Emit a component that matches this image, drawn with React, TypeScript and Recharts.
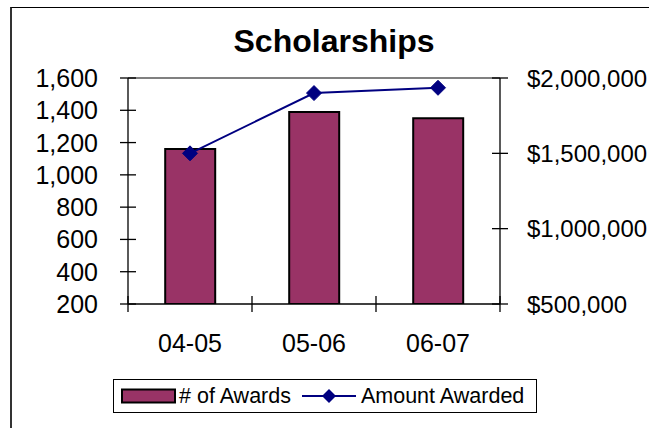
import { ComposedChart, Bar, Line, XAxis, YAxis, ReferenceLine, Legend } from 'recharts';

const categories = ['04-05', '05-06', '06-07'];
const awards = [1160, 1390, 1350];
const amounts = [1500000, 1900000, 1935000];
const leftTicks = [200, 400, 600, 800, 1000, 1200, 1400, 1600];
const rightTicks = [500000, 1000000, 1500000, 2000000];

const data = categories.map((c, i) => ({
  year: c,
  awards: awards[i],
  amount: amounts[i],
}));

const FONT = '"Liberation Sans", Arial, sans-serif';
const BAR_COLOR = '#993366';
const LINE_COLOR = '#000080';

const LeftTick = (props: any) => {
  const { x, y, payload } = props;
  const ax = x + 30; // axis line position
  return (
    <g>
      <line x1={ax - 8} x2={ax + 8} y1={y} y2={y} stroke="#000" strokeWidth={1.3} />
      <text x={x} y={y} dy="0.36em" textAnchor="end" fontSize={25} fill="#000" fontFamily={FONT}>
        {payload.value.toLocaleString('en-US')}
      </text>
    </g>
  );
};

const RightTick = (props: any) => {
  const { x, y, payload } = props;
  const ax = x - 27;
  return (
    <g>
      <line x1={ax - 8} x2={ax + 8} y1={y} y2={y} stroke="#000" strokeWidth={1.3} />
      <text x={x} y={y} dy="0.36em" textAnchor="start" fontSize={24} fill="#000" fontFamily={FONT}>
        {'$' + payload.value.toLocaleString('en-US')}
      </text>
    </g>
  );
};

const BottomTick = (props: any) => {
  const { x, y, payload, index, visibleTicksCount, width } = props;
  const half = payload.offset > 0 ? payload.offset : width / visibleTicksCount / 2;
  const ay = y - 8; // axis line position
  return (
    <g>
      <line x1={x - half} x2={x - half} y1={ay - 8} y2={ay + 8} stroke="#000" strokeWidth={1.3} />
      {index === visibleTicksCount - 1 && (
        <line x1={x + half} x2={x + half} y1={ay - 8} y2={ay + 8} stroke="#000" strokeWidth={1.3} />
      )}
      <text x={x} y={ay + 47.5} textAnchor="middle" fontSize={25} fill="#000" fontFamily={FONT}>
        {payload.value}
      </text>
    </g>
  );
};

const Diamond = (props: any) => {
  const { cx, cy } = props;
  if (cx == null || cy == null) return null;
  const r = 7.5;
  return (
    <polygon
      points={`${cx},${cy - r} ${cx + r},${cy} ${cx},${cy + r} ${cx - r},${cy}`}
      fill={LINE_COLOR}
      stroke={LINE_COLOR}
    />
  );
};

const LegendBox = () => (
  <div
    style={{
      width: 424,
      height: 34,
      border: '1px solid #000',
      background: '#fff',
      display: 'flex',
      alignItems: 'center',
      fontFamily: FONT,
      fontSize: 21.5,
      color: '#000',
      boxSizing: 'border-box',
    }}
  >
    <svg width={60} height={20} style={{ marginLeft: 6 }}>
      <rect x={2} y={3.5} width={53} height={13} fill={BAR_COLOR} stroke="#000" strokeWidth={2} />
    </svg>
    <span style={{ marginLeft: -1 }}># of Awards</span>
    <svg width={56} height={20} style={{ marginLeft: 10 }}>
      <line x1={1} x2={55} y1={10} y2={10} stroke={LINE_COLOR} strokeWidth={2} />
      <polygon points="28,3 35,10 28,17 21,10" fill={LINE_COLOR} />
    </svg>
    <span style={{ marginLeft: 4 }}>Amount Awarded</span>
  </div>
);

export default function App() {
  return (
    <div
      style={{
        position: 'absolute',
        left: 0,
        top: 0,
        width: 649,
        height: 428,
        background: '#fff',
        overflow: 'hidden',
      }}
    >
      <div
        style={{
          position: 'absolute',
          left: 10,
          top: 7,
          width: 700,
          height: 500,
          borderLeft: '2px solid #333',
          borderTop: '1.5px solid #000',
        }}
      />
      <div
        style={{
          position: 'absolute',
          left: 0,
          width: 668,
          top: 23,
          textAlign: 'center',
          fontFamily: FONT,
          fontWeight: 'bold',
          fontSize: 32,
          lineHeight: '36px',
          color: '#000',
        }}
      >
        Scholarships
      </div>
      <div style={{ position: 'absolute', left: 0, top: 0 }}>
        <ComposedChart
          width={649}
          height={428}
          data={data}
          margin={{ top: 78, right: 0, bottom: 0, left: 0 }}
          barCategoryGap="30%"
        >
          <XAxis
            dataKey="year"
            height={124}
            axisLine={{ stroke: '#000', strokeWidth: 1.3 }}
            tickLine={false}
            tickSize={8}
            tickMargin={0}
            tick={<BottomTick />}
            interval={0}
          />
          <YAxis
            yAxisId="left"
            width={128}
            domain={[200, 1600]}
            ticks={leftTicks}
            allowDataOverflow
            axisLine={{ stroke: '#000', strokeWidth: 1.3 }}
            tickLine={false}
            tickSize={8}
            tickMargin={22}
            tick={<LeftTick />}
            interval={0}
          />
          <YAxis
            yAxisId="right"
            orientation="right"
            width={149}
            domain={[500000, 2000000]}
            ticks={rightTicks}
            allowDataOverflow
            axisLine={{ stroke: '#000', strokeWidth: 1.3 }}
            tickLine={false}
            tickSize={8}
            tickMargin={19}
            tick={<RightTick />}
            interval={0}
          />
          <ReferenceLine yAxisId="left" y={1600} stroke="#808080" strokeWidth={2} />
          <Bar
            yAxisId="left"
            dataKey="awards"
            name="# of Awards"
            fill={BAR_COLOR}
            stroke="#000"
            strokeWidth={2}
            isAnimationActive={false}
          />
          <Line
            yAxisId="right"
            dataKey="amount"
            name="Amount Awarded"
            stroke={LINE_COLOR}
            strokeWidth={2}
            dot={<Diamond />}
            activeDot={false}
            isAnimationActive={false}
          />
          <Legend
            layout="horizontal"
            verticalAlign="middle"
            align="center"
            content={<LegendBox />}
            wrapperStyle={{ position: 'absolute', left: 113, top: 379, width: 424, right: 'auto', bottom: 'auto' }}
          />
        </ComposedChart>
      </div>
    </div>
  );
}
